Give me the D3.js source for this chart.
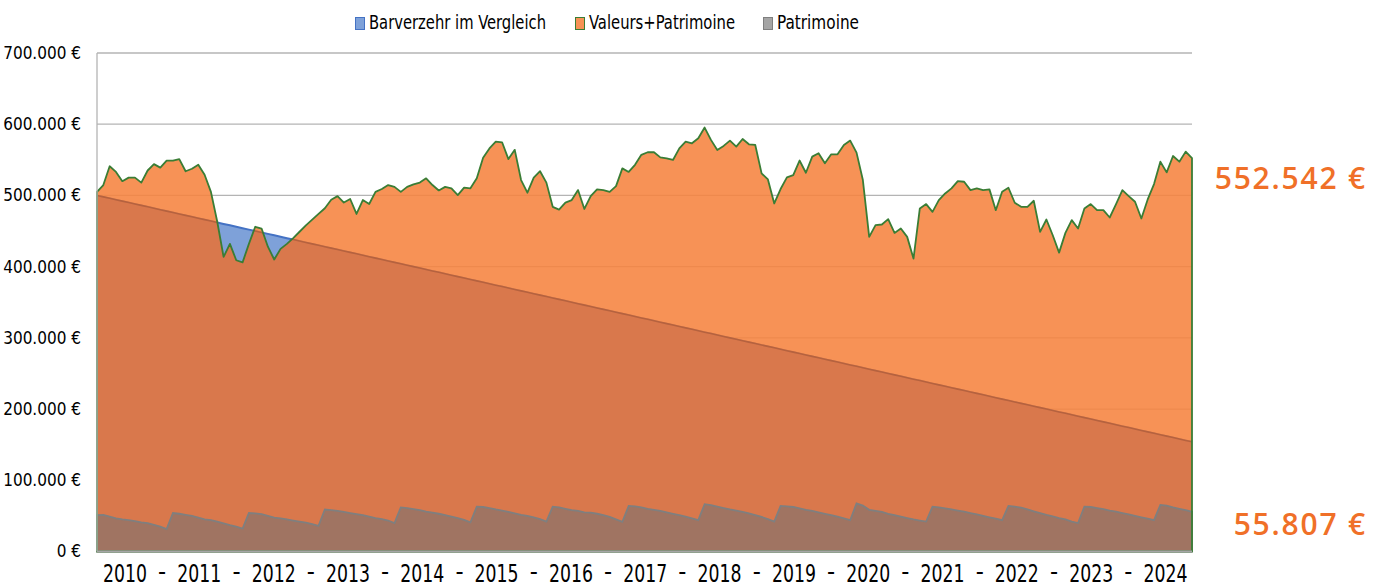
<!DOCTYPE html>
<html>
<head>
<meta charset="utf-8">
<script src="https://cdn.jsdelivr.net/npm/d3@7"></script>
<style>
  body { margin: 0; background: #fff; }
  svg { display: block; }
</style>
</head>
<body>
<div id="chart"></div>
<script>
// Entnahmeplan vs. Depotwert, Monatswerte in Tausend Euro (Jan 2010 - Jun 2024)
const years = [2010, 2011, 2012, 2013, 2014, 2015, 2016, 2017, 2018, 2019, 2020, 2021, 2022, 2023, 2024];
const seriesNames = ["Barverzehr im Vergleich", "Valeurs+Patrimoine", "Patrimoine"];
const yTicks = [0, 100000, 200000, 300000, 400000, 500000, 600000, 700000];

const barverzehr = [
  500,498,496,494,492,490,488,486,484,482,480,478,
  476,474,472,470,468,466,464,462,460,458,456,454,
  452,450,448,446,444,442,440,438,436,434,432,430,
  428,426,424,422,420,418,416,414,412,410,408,406,
  404,402,400,398,396,394,392,390,388,386,384,382,
  380,378,376,374,372,370,368,366,364,362,360,358,
  356,354,352,350,348,346,344,342,340,338,336,334,
  332,330,328,326,324,322,320,318,316,314,312,310,
  308,306,304,302,300,298,296,294,292,290,288,286,
  284,282,280,278,276,274,272,270,268,266,264,262,
  260,258,256,254,252,250,248,246,244,242,240,238,
  236,234,232,230,228,226,224,222,220,218,216,214,
  212,210,208,206,204,202,200,198,196,194,192,190,
  188,186,184,182,180,178,176,174,172,170,168,166,
  164,162,160,158,156,154
];

const valeurs = [
  505,514.6,541,533,520,525,525,518,535,544,539,549,
  549,551,534,537.5,543,529,505,463,413.6,432,409,406,
  432,456,453.5,428,410,425,432,440,449,458,466,474,
  482,494,499,490,495,474,493.5,488,505,509,514.6,512,
  505,512,515.5,518,524,514.6,507,512,510,500.5,511,510,
  524,553,566,575.6,574.6,551,564,521.6,503.8,525,534,518,
  484,480,490,493.5,507.5,481,499,508.5,507.5,505,513,538,
  533,543,557,560.6,560.6,553.5,552,549.8,566,575.6,573.2,580.3,
  595.3,578,563.8,569.5,577,568.5,579.3,571.8,570.9,531,522.5,488.7,
  509,525.4,528.6,549,531.9,554.5,559.2,545.1,557.7,557.7,570.9,577,
  560.1,521.6,441.8,458.2,459.2,466.7,447.4,453.5,441.8,411.3,481.7,487.8,
  477,493.4,502.8,509.9,520.2,519.2,507.5,509.9,507.5,508.5,479.3,505.2,
  510.8,489.7,484,484,492.5,448.8,466.2,444.1,419.7,447.4,465.3,453.5,
  481.7,487.8,479.3,479.3,469,487.8,507.5,499.1,491.1,467.6,494.4,516,
  547.4,532.4,555.4,547.4,561.5,552.542
];

const patrimoine = [
  51,51.5,49,46.5,45,44,42.5,41,40,37.5,35,31.5,
  54,53,51.5,50,47.5,45,44,42,39.5,37,35,32,
  54,53.5,52.5,50,47.5,46.5,45,43.5,42,40.5,38.5,36,
  59,58,57,55.5,54,52.5,51,49,47,45.5,43.5,40,
  62,61,59.5,58,56,54.5,53,51,49,47,44.5,41,
  63,62.5,61,59,57.5,55.5,53.5,51.5,50,48,45.5,42,
  63,62,60,58,57,55,54.5,53,51,48.5,45,41.5,
  64,63.5,62,60,58.5,57,55,53,51,49,46.5,44,
  66.5,65,63,61,59,57.5,55.5,53.5,51,48.5,45.5,42,
  64,63.5,62.5,60.5,58.5,57,55,53,51,49,46.5,44,
  67.5,64.5,58.5,57,55.5,53,51,49,47,45,43.5,42,
  63,62,60.5,59,57.5,56,54,52,50,48,46,44,
  64,63,61.5,59,56.5,54,51.5,49.5,47,45,42,40,
  63,62.5,61,59.5,57.5,56,54,52,50,48,46,44,
  65.5,64.5,62,60,58,55.807
];

const W = 1381, H = 588;
const plotL = 97, plotR = 1192, plotT = 53, plotB = 551.5;

const de = d3.formatLocale({ decimal: ",", thousands: ".", grouping: [3], currency: ["", " €"] });
const fmt = de.format(",.0f");

const svg = d3.select("#chart").append("svg")
    .attr("width", W).attr("height", H)
    .style("font-family", "'Liberation Sans Narrow', 'DejaVu Sans Condensed', sans-serif");

const x = d3.scaleLinear().domain([0, valeurs.length - 1]).range([plotL, plotR]);
const y = d3.scaleLinear().domain([0, 700000]).range([plotB, plotT]);
const xYear = d3.scalePoint().domain(years).range([125, 1165.5]);

const idx = d3.range(valeurs.length);

// Gridlines
svg.append("g").selectAll("line")
    .data(yTicks.slice(1))
    .join("line")
    .attr("x1", plotL).attr("x2", plotR)
    .attr("y1", d => y(d)).attr("y2", d => y(d))
    .attr("stroke", "#b4b4b4").attr("stroke-width", 1.3);

const areaOf = arr => d3.area()
    .x(i => x(i)).y0(y(0)).y1(i => y(arr[i] * 1000));
const lineOf = arr => d3.line()
    .x(i => x(i)).y(i => y(arr[i] * 1000));

// Blue: Barverzehr (hinten)
svg.append("path").attr("d", areaOf(barverzehr)(idx)).attr("fill", "#7ea1d9");
svg.append("path").attr("d", lineOf(barverzehr)(idx))
    .attr("fill", "none").attr("stroke", "#4472c4").attr("stroke-width", 2);

// Orange: Valeurs+Patrimoine
const defs = svg.append("defs");
defs.append("clipPath").attr("id", "valClip")
    .append("path").attr("d", areaOf(valeurs)(idx));

svg.append("path").attr("d", areaOf(valeurs)(idx))
    .attr("fill", "rgb(246,131,63)").attr("fill-opacity", 0.88);

// Dunkler Bereich unter der Barverzehr-Linie
const darkG = svg.append("g").attr("clip-path", "url(#valClip)");
darkG.append("path").attr("d", areaOf(barverzehr)(idx)).attr("fill", "#d9784c");
darkG.append("path").attr("d", lineOf(barverzehr)(idx))
    .attr("fill", "none").attr("stroke", "#b5623f").attr("stroke-width", 1.6);

// Grau: Patrimoine
svg.append("path").attr("d", areaOf(patrimoine)(idx))
    .attr("fill", "#a07462")
    .attr("stroke", "#7f7f7f").attr("stroke-width", 1.8);

// Green outline of Valeurs+Patrimoine
svg.append("path").attr("d", areaOf(valeurs)(idx))
    .attr("fill", "none").attr("stroke", "#3a7d35").attr("stroke-width", 1.8)
    .attr("stroke-linejoin", "round");

// Axes lines
svg.append("line").attr("x1", plotL).attr("x2", plotL).attr("y1", plotT).attr("y2", plotB)
    .attr("stroke", "#b4b4b4").attr("stroke-width", 1.3);
svg.append("line").attr("x1", plotL).attr("x2", plotR).attr("y1", plotB).attr("y2", plotB)
    .attr("stroke", "#a6a6a6").attr("stroke-width", 2);

// Y tick labels
svg.append("g").selectAll("text")
    .data(yTicks)
    .join("text")
    .attr("x", 81).attr("y", d => y(d))
    .attr("dy", "0.35em")
    .attr("text-anchor", "end")
    .attr("font-size", 17)
    .attr("fill", "#000")
    .text(d => fmt(d) + " €");

// X labels: years with dashes between (narrow like Calibri)
const xl = svg.append("g").attr("font-size", 25).attr("fill", "#000");
xl.selectAll("text.yr")
    .data(years)
    .join("text").attr("class", "yr")
    .attr("x", d => xYear(d) - 22).attr("y", 582)
    .attr("textLength", 44).attr("lengthAdjust", "spacingAndGlyphs")
    .text(d => d);
xl.selectAll("text.dash")
    .data(years.slice(1))
    .join("text").attr("class", "dash")
    .attr("x", d => xYear(d) - xYear.step() / 2).attr("y", 580)
    .attr("text-anchor", "middle")
    .text("-");

// Legend
const legendItems = [
  { name: seriesNames[0], fill: "#7ea1d9", stroke: "#4472c4", x: 355, w: 177 },
  { name: seriesNames[1], fill: "#f79256", stroke: "#3a7d35", x: 575, w: 146 },
  { name: seriesNames[2], fill: "#a5a5a5", stroke: "#7f7f7f", x: 763, w: 82 }
];
const lg = svg.append("g");
const li = lg.selectAll("g").data(legendItems).join("g")
    .attr("transform", d => `translate(${d.x},0)`);
li.append("rect").attr("x", 0.5).attr("y", 17.5).attr("width", 9).attr("height", 12)
    .attr("fill", d => d.fill).attr("stroke", d => d.stroke).attr("stroke-width", 1);
li.append("text").attr("x", 14).attr("y", 29)
    .attr("font-size", 19).attr("fill", "#000")
    .attr("textLength", d => d.w).attr("lengthAdjust", "spacingAndGlyphs")
    .text(d => d.name);

// End value labels
const lastV = valeurs[valeurs.length - 1] * 1000;
const lastP = patrimoine[patrimoine.length - 1] * 1000;
const endLbl = svg.append("g")
    .style("font-family", "'Open Sans', sans-serif")
    .attr("font-weight", 600).attr("font-size", 30).attr("fill", "#f07028")
    .attr("letter-spacing", 1.8)
    .attr("text-anchor", "end");
endLbl.append("text").attr("x", 1367).attr("y", y(lastV) + 31).text(fmt(Math.round(lastV)) + " €");
endLbl.append("text").attr("x", 1367).attr("y", y(lastP) + 23).text(fmt(Math.round(lastP)) + " €");
</script>
</body>
</html>
